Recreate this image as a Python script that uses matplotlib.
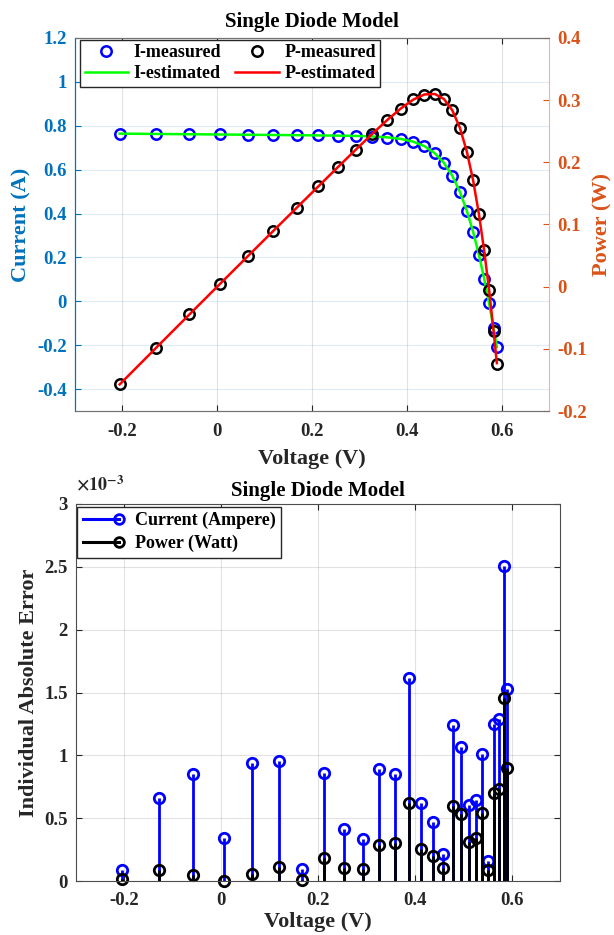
import matplotlib
matplotlib.use("Agg")
import matplotlib.pyplot as plt
from matplotlib.lines import Line2D
from matplotlib.legend_handler import HandlerBase

# Dados medidos (tensão, corrente, potência)
voltage = [-0.2057, -0.1291, -0.0588, 0.0057, 0.0646, 0.1185, 0.1678, 0.2132, 0.2545,
           0.2924, 0.3269, 0.3585, 0.3873, 0.4137, 0.4373, 0.4590, 0.4784, 0.4960,
           0.5119, 0.5265, 0.5398, 0.5521, 0.5633, 0.5736, 0.5833, 0.5900]
i_measured = [0.7640, 0.7620, 0.7605, 0.7605, 0.7600, 0.7590, 0.7570, 0.7570, 0.7555,
              0.7540, 0.7505, 0.7465, 0.7385, 0.7280, 0.7065, 0.6755, 0.6320, 0.5730,
              0.4990, 0.4130, 0.3165, 0.2120, 0.1035, -0.0100, -0.1230, -0.2100]
i_estimated = [0.7641, 0.7627, 0.7614, 0.7602, 0.7591, 0.7580, 0.7571, 0.7561, 0.7551,
               0.7537, 0.7514, 0.7474, 0.7401, 0.7274, 0.7070, 0.6753, 0.6308, 0.5719,
               0.4996, 0.4137, 0.3175, 0.2121, 0.1022, -0.0087, -0.1255, -0.2085]
p_measured = [-0.1572, -0.0984, -0.0447, 0.0043, 0.0491, 0.0899, 0.1270, 0.1614, 0.1923,
              0.2205, 0.2453, 0.2676, 0.2860, 0.3012, 0.3090, 0.3101, 0.3024, 0.2842,
              0.2554, 0.2174, 0.1709, 0.1171, 0.0583, -0.0057, -0.0718, -0.1239]
p_estimated = [-0.1572, -0.0985, -0.0448, 0.0043, 0.0490, 0.0898, 0.1270, 0.1612, 0.1922,
               0.2204, 0.2456, 0.2679, 0.2866, 0.3009, 0.3092, 0.3100, 0.3018, 0.2837,
               0.2558, 0.2178, 0.1714, 0.1171, 0.0576, -0.0050, -0.0732, -0.1230]

# Erros absolutos individuais (x 10^-3)
err_current = [0.090, 0.660, 0.855, 0.345, 0.940, 0.955, 0.093, 0.857, 0.414, 0.337,
               0.889, 0.855, 1.617, 0.619, 0.473, 0.218, 1.240, 1.070, 0.608, 0.648,
               1.009, 0.159, 1.248, 1.287, 2.503, 1.527]
err_power = [0.016, 0.085, 0.048, 0.003, 0.058, 0.111, 0.011, 0.183, 0.106, 0.098,
             0.289, 0.305, 0.624, 0.258, 0.202, 0.101, 0.595, 0.531, 0.311, 0.342,
             0.544, 0.090, 0.703, 0.735, 1.460, 0.900]

x_ticks = [-0.2, 0, 0.2, 0.4, 0.6]

plt.rcParams['font.family'] = ['Liberation Serif', 'DejaVu Serif']
plt.rcParams['font.weight'] = 'bold'
plt.rcParams['axes.unicode_minus'] = False
plt.rcParams['mathtext.fontset'] = 'stix'

azul = (0, 0.447, 0.741)
laranja = (0.85, 0.325, 0.098)
cinza = (0.15, 0.15, 0.15)

fig = plt.figure(figsize=(6.14, 9.35), dpi=100)

# ---------------- Gráfico superior ----------------
ax1 = fig.add_axes([75 / 614, 1 - 411 / 935, 474 / 614, 373 / 935])
ax2 = ax1.twinx()

l1, = ax1.plot(voltage, i_measured, 'o', mfc='none', mec='blue', ms=7.5, mew=1.8, label='I-measured')
l2, = ax1.plot(voltage, i_estimated, '-', color=(0, 1, 0), lw=1.8, label='I-estimated')
l3, = ax2.plot(voltage, p_measured, 'o', mfc='none', mec='black', ms=7.5, mew=1.8, label='P-measured')
l4, = ax2.plot(voltage, p_estimated, '-', color='red', lw=1.8, label='P-estimated')

ax1.set_xlim(-0.3, 0.7)
ax1.set_ylim(-0.5, 1.2)
ax2.set_ylim(-0.2, 0.4)
ax1.set_xticks(x_ticks)
ax1.set_xticklabels(['%g' % t for t in x_ticks])
yl = [-0.4, -0.2, 0, 0.2, 0.4, 0.6, 0.8, 1, 1.2]
ax1.set_yticks(yl)
ax1.set_yticklabels(['%g' % t for t in yl])
yr = [-0.2, -0.1, 0, 0.1, 0.2, 0.3, 0.4]
ax2.set_yticks(yr)
ax2.set_yticklabels(['%g' % t for t in yr])

ax1.grid(axis='x', color=cinza, alpha=0.13, lw=0.8)
ax1.grid(axis='y', color=azul, alpha=0.13, lw=0.8)
ax1.set_axisbelow(True)

ax1.tick_params(axis='x', direction='in', top=True, labelsize=13.5, colors=cinza, length=4, pad=9)
ax1.tick_params(axis='y', direction='in', labelsize=13.5, colors=azul, length=4, pad=6)
ax2.tick_params(axis='y', direction='in', labelsize=13.5, colors=laranja, length=4, pad=6)
for s in ['top', 'bottom']:
    ax1.spines[s].set_color((0.45, 0.45, 0.45))
    ax2.spines[s].set_color((0.45, 0.45, 0.45))
ax1.spines['left'].set_color(azul)
ax2.spines['left'].set_color(azul)
ax2.spines['right'].set_color((0.95, 0.7, 0.6))
ax1.spines['right'].set_visible(False)

ax1.set_xlabel('Voltage (V)', fontsize=16, fontweight='bold', color=cinza, labelpad=6)
ax1.set_ylabel('Current (A)', fontsize=16, fontweight='bold', color=azul, labelpad=4)
ax2.set_ylabel('Power (W)', fontsize=16, fontweight='bold', color=laranja, labelpad=4)
ax1.set_title('Single Diode Model', fontsize=15, fontweight='bold', pad=8)

leg = ax2.legend([l1, l2, l3, l4], ['I-measured', 'I-estimated', 'P-measured', 'P-estimated'],
                 ncol=2, loc='upper left', bbox_to_anchor=(0.011, 0.995), borderaxespad=0,
                 fontsize=13, fancybox=False, edgecolor=cinza, framealpha=1,
                 handlelength=2.4, columnspacing=0.8, borderpad=0.25, labelspacing=0.2,
                 handletextpad=0.3)
leg.get_frame().set_linewidth(1.0)


# ---------------- Gráfico inferior ----------------
class StemHandler(HandlerBase):
    # linha com o marcador na ponta direita, como no MATLAB
    def create_artists(self, legend, orig_handle, xdescent, ydescent, width, height, fontsize, trans):
        y = height / 2 - ydescent
        linha = Line2D([-xdescent, width - xdescent], [y, y], color=orig_handle.get_color(), lw=2.2)
        marca = Line2D([width - xdescent], [y], marker='o', mfc='none',
                       mec=orig_handle.get_color(), ms=7, mew=2)
        linha.set_transform(trans)
        marca.set_transform(trans)
        return [linha, marca]


ax3 = fig.add_axes([76 / 614, 1 - 881 / 935, 484 / 614, 377 / 935])
s1 = ax3.stem(voltage, err_current, linefmt='-', markerfmt='o', basefmt=' ')
s1.stemlines.set_color('blue')
s1.stemlines.set_linewidth(2.0)
s1.markerline.set_color('blue')
s1.markerline.set_markerfacecolor('none')
s1.markerline.set_markersize(7.5)
s1.markerline.set_markeredgewidth(2)
s2 = ax3.stem(voltage, err_power, linefmt='-', markerfmt='o', basefmt=' ')
s2.stemlines.set_color('black')
s2.stemlines.set_linewidth(2.0)
s2.markerline.set_color('black')
s2.markerline.set_markerfacecolor('none')
s2.markerline.set_markersize(7.5)
s2.markerline.set_markeredgewidth(2)
for s in (s1, s2):
    s.markerline.set_clip_on(False)

ax3.set_xlim(-0.3, 0.7)
ax3.set_ylim(0, 3)
ax3.set_xticks(x_ticks)
ax3.set_xticklabels(['%g' % t for t in x_ticks])
yb = [0, 0.5, 1, 1.5, 2, 2.5, 3]
ax3.set_yticks(yb)
ax3.set_yticklabels(['%g' % t for t in yb])
ax3.grid(color=cinza, alpha=0.13, lw=0.8)
ax3.set_axisbelow(True)
ax3.tick_params(direction='in', top=True, right=True, labelsize=13.5, colors=cinza, length=4, pad=6)
ax3.tick_params(axis='x', pad=8)
for s in ax3.spines.values():
    s.set_color((0.3, 0.3, 0.3))

ax3.set_xlabel('Voltage (V)', fontsize=16, fontweight='bold', color=cinza, labelpad=2)
ax3.set_ylabel('Individual Absolute Error', fontsize=16, fontweight='bold', color=cinza, labelpad=4)
ax3.set_title('Single Diode Model', fontsize=15, fontweight='bold', pad=6)
ax3.text(0.0, 1.025, r'$\times 10^{-3}$', transform=ax3.transAxes, fontsize=13,
         fontweight='normal', va='bottom', ha='left', color=cinza)

h1 = Line2D([], [], color='blue')
h2 = Line2D([], [], color='black')
leg2 = ax3.legend([h1, h2], ['Current (Ampere)', 'Power (Watt)'], loc='upper left',
                  bbox_to_anchor=(0.003, 0.993), borderaxespad=0, fontsize=13, fancybox=False,
                  edgecolor=cinza, framealpha=1, handlelength=2.0, borderpad=0.3,
                  labelspacing=0.3, handletextpad=0.9, handler_map={Line2D: StemHandler()})
leg2.get_frame().set_linewidth(1.0)

fig.savefig('out.png', dpi=100)
